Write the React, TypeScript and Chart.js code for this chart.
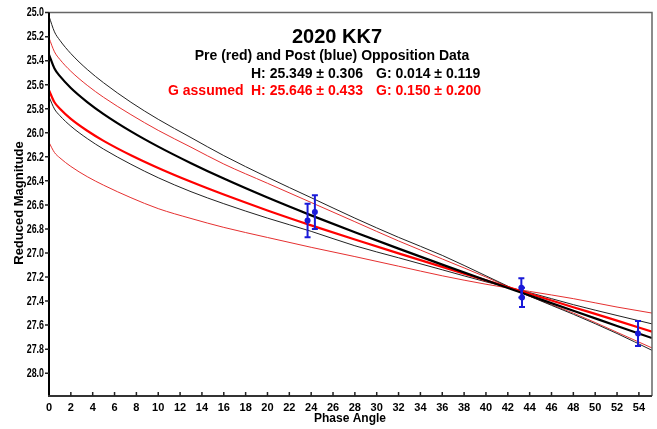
import React, { useEffect, useRef } from "react";
import { Chart, registerables } from "chart.js";

Chart.register(...registerables);

// ---- data ----
const phaseAngles = [0, 0.5, 1, 2, 3.5, 5, 7.5, 10, 13, 16, 20, 24, 28, 32, 36, 40, 44, 48, 52, 55.2];
// post-opposition fit (black, bold) and its envelope (black, thin)
const postFit = [25.349, 25.465, 25.529, 25.627, 25.744, 25.844, 25.988, 26.115, 26.253, 26.381, 26.539, 26.687, 26.828, 26.964, 27.097, 27.227, 27.354, 27.481, 27.607, 27.708];
const postUpper = [25.03, 25.16, 25.231, 25.341, 25.473, 25.584, 25.746, 25.888, 26.04, 26.19, 26.37, 26.54, 26.71, 26.87, 27.02, 27.19, 27.36, 27.51, 27.67, 27.81];
const postLower = [25.7, 25.802, 25.858, 25.945, 26.048, 26.136, 26.262, 26.374, 26.49, 26.59, 26.71, 26.82, 26.94, 27.04, 27.14, 27.24, 27.33, 27.43, 27.52, 27.59];
// G assumed fit (red, bold) and its envelope (red, thin)
const preFit = [25.646, 25.746, 25.8, 25.884, 25.983, 26.067, 26.187, 26.293, 26.408, 26.514, 26.646, 26.77, 26.888, 27.003, 27.116, 27.228, 27.339, 27.451, 27.563, 27.655];
const preUpper = [25.21, 25.326, 25.39, 25.488, 25.605, 25.705, 25.849, 25.98, 26.12, 26.26, 26.42, 26.58, 26.74, 26.9, 27.05, 27.2, 27.36, 27.5, 27.66, 27.79];
const preLower = [26.08, 26.164, 26.209, 26.28, 26.365, 26.436, 26.54, 26.631, 26.713, 26.787, 26.871, 26.953, 27.03, 27.11, 27.19, 27.26, 27.32, 27.38, 27.45, 27.5];
// observations with error bars
const obsPhase = [23.67, 24.34, 43.24, 43.3, 53.92];
const obsMag = [26.73, 26.66, 27.29, 27.37, 27.67];
const obsErr = [0.14, 0.14, 0.08, 0.08, 0.105];

const titleText = "2020 KK7";
const subtitleText = "Pre (red) and Post (blue) Opposition Data";
const postH = "H: 25.349 ± 0.306";
const postG = "G: 0.014 ± 0.119";
const preLabel = "G assumed";
const preH = "H: 25.646 ± 0.433";
const preG = "G: 0.150 ± 0.200";
const xTitle = "Phase Angle";
const yTitle = "Reduced Magnitude";

const FONT = 'Arial, "Liberation Sans", sans-serif';
const RED = "#ff0000";
const BLUE = "#1a1ad8";

function series(ys: number[]) {
  return phaseAngles.map((x, i) => ({ x, y: ys[i] }));
}

export default function App() {
  const ref = useRef<HTMLCanvasElement | null>(null);

  useEffect(() => {
    const canvas = ref.current;
    if (!canvas) return;

    const errorBars = {
      id: "errorBars",
      beforeDatasetDraw(chart: any, args: any) {
        if (args.index !== 0) return;
        const { ctx, scales } = chart;
        ctx.save();
        ctx.strokeStyle = BLUE;
        ctx.lineWidth = 2;
        obsPhase.forEach((p, i) => {
          const x = scales.x.getPixelForValue(p);
          const y1 = scales.y.getPixelForValue(obsMag[i] - obsErr[i]);
          const y2 = scales.y.getPixelForValue(obsMag[i] + obsErr[i]);
          ctx.beginPath();
          ctx.moveTo(x, y1);
          ctx.lineTo(x, y2);
          ctx.moveTo(x - 3, y1);
          ctx.lineTo(x + 3, y1);
          ctx.moveTo(x - 3, y2);
          ctx.lineTo(x + 3, y2);
          ctx.stroke();
        });
        ctx.restore();
      },
    };

    const decorations = {
      id: "decorations",
      afterDraw(chart: any) {
        const { ctx, chartArea, scales } = chart;
        const { left, right, top, bottom } = chartArea;
        ctx.save();
        // frame
        ctx.strokeStyle = "#666";
        ctx.lineWidth = 1.5;
        ctx.beginPath();
        ctx.moveTo(left, top);
        ctx.lineTo(right, top);
        ctx.lineTo(right, bottom);
        ctx.stroke();
        ctx.strokeStyle = "#000";
        ctx.lineWidth = 2;
        ctx.beginPath();
        ctx.moveTo(left, top);
        ctx.lineTo(left, bottom);
        ctx.stroke();
        ctx.strokeStyle = "#333";
        ctx.beginPath();
        ctx.moveTo(left - 1, bottom);
        ctx.lineTo(right, bottom);
        ctx.stroke();
        // tick marks
        ctx.lineWidth = 1.5;
        ctx.strokeStyle = "#222";
        ctx.beginPath();
        scales.x.ticks.forEach((t: any) => {
          const x = scales.x.getPixelForValue(t.value);
          if (x <= left + 1) return;
          ctx.moveTo(x, bottom);
          ctx.lineTo(x, bottom - 4);
        });
        scales.y.ticks.forEach((t: any) => {
          const y = scales.y.getPixelForValue(t.value);
          ctx.moveTo(left, y);
          ctx.lineTo(left - 4, y);
        });
        ctx.stroke();

        // y tick labels (slightly condensed, as in the original)
        ctx.fillStyle = "#000";
        ctx.font = `bold 12px ${FONT}`;
        ctx.textAlign = "right";
        ctx.textBaseline = "middle";
        scales.y.ticks.forEach((t: any) => {
          const y = scales.y.getPixelForValue(t.value);
          ctx.save();
          ctx.translate(left - 5, y);
          ctx.scale(0.74, 1);
          ctx.fillText(Number(t.value).toFixed(1), 0, 0.5);
          ctx.restore();
        });

        // texts
        ctx.textBaseline = "alphabetic";
        ctx.fillStyle = "#000";
        ctx.textAlign = "center";
        ctx.font = `bold 20px ${FONT}`;
        ctx.fillText(titleText, 337, 42.5);
        ctx.font = `bold 14px ${FONT}`;
        ctx.fillText(subtitleText, 332, 59.5);
        ctx.textAlign = "left";
        ctx.fillText(postH, 251, 78);
        ctx.fillText(postG, 376, 78);
        ctx.fillStyle = RED;
        ctx.fillText(preLabel, 168, 95);
        ctx.fillText(preH, 251, 95);
        ctx.fillText(preG, 376, 95);

        ctx.fillStyle = "#000";
        ctx.textAlign = "center";
        ctx.font = `bold 12px ${FONT}`;
        ctx.fillText(xTitle, 350, 422);
        ctx.save();
        ctx.translate(22.5, 203);
        ctx.rotate(-Math.PI / 2);
        ctx.font = `bold 13px ${FONT}`;
        ctx.fillText(yTitle, 0, 0);
        ctx.restore();
        ctx.restore();
      },
    };

    const thin = (ys: number[], color: string) => ({
      type: "line" as const,
      data: series(ys),
      borderColor: color,
      borderWidth: 1,
      pointRadius: 0,
      fill: false,
      cubicInterpolationMode: "monotone" as const,
    });
    const bold = (ys: number[], color: string) => ({
      type: "line" as const,
      data: series(ys),
      borderColor: color,
      borderWidth: 2.2,
      pointRadius: 0,
      fill: false,
      cubicInterpolationMode: "monotone" as const,
    });

    const chart = new Chart(canvas, {
      type: "line",
      data: {
        datasets: [
          {
            type: "scatter",
            data: obsPhase.map((x, i) => ({ x, y: obsMag[i] })),
            backgroundColor: BLUE,
            borderColor: BLUE,
            pointRadius: 3,
            pointBorderWidth: 0,
            showLine: false,
          } as any,
          bold(postFit, "#000"),
          bold(preFit, RED),
          thin(postUpper, "#222"),
          thin(postLower, "#222"),
          thin(preUpper, "#e53030"),
          thin(preLower, "#e53030"),
        ],
      },
      options: {
        animation: false,
        responsive: false,
        maintainAspectRatio: false,
        layout: { padding: { top: 10, right: 5, left: 0, bottom: 0 } },
        plugins: {
          legend: { display: false },
          tooltip: { enabled: false },
          title: { display: false },
        },
        scales: {
          x: {
            type: "linear",
            min: 0,
            max: 55.2,
            afterFit: (s: any) => {
              s.height = 33;
            },
            grid: { display: false, drawTicks: false },
            border: { display: false },
            ticks: {
              stepSize: 2,
              includeBounds: false,
              autoSkip: false,
              maxRotation: 0,
              padding: 5,
              color: "#000",
              font: { family: FONT, size: 11, weight: "bold" },
              callback: (v: any) => String(Math.round(Number(v))),
            },
          },
          y: {
            type: "linear",
            reverse: true,
            min: 25,
            max: 28.19,
            afterFit: (s: any) => {
              s.width = 49;
            },
            grid: { display: false, drawTicks: false },
            border: { display: false },
            ticks: {
              stepSize: 0.2,
              includeBounds: false,
              autoSkip: false,
              padding: 6,
              color: "rgba(0,0,0,0)",
              font: { family: FONT, size: 11, weight: "bold" },
              callback: (v: any) => Number(v).toFixed(1),
            },
          },
        },
      } as any,
      plugins: [errorBars, decorations],
    });

    return () => chart.destroy();
  }, []);

  return (
    <div style={{ position: "fixed", left: 0, top: 0, width: 657, height: 429, background: "#fff" }}>
      <canvas ref={ref} width={657} height={429} style={{ width: 657, height: 429 }} />
    </div>
  );
}
